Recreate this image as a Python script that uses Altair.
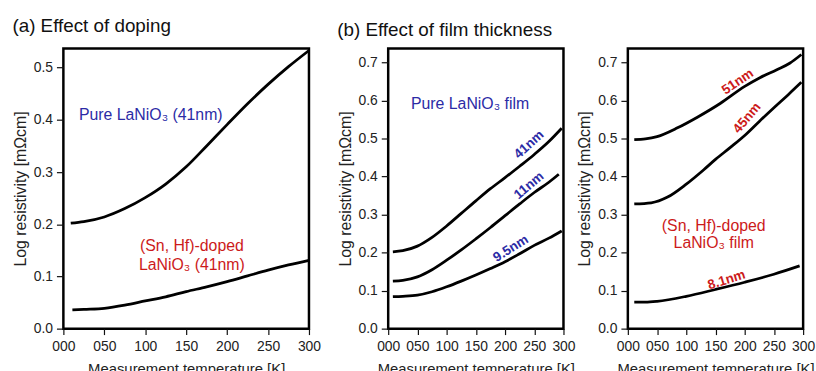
import altair as alt
import pandas as pd

FONT = "Liberation Sans"
BLUE = "#2B2BA6"
RED = "#CC1A1A"

# ---------------- data ----------------
# Panel (a): effect of doping
a_pure_T = [9, 25, 50, 75, 100, 125, 150, 175, 200, 225, 250, 275, 300]
a_pure_R = [0.202, 0.205, 0.214, 0.230, 0.251, 0.277, 0.310, 0.350, 0.391, 0.431, 0.468, 0.502, 0.533]
a_dop_T = [11, 25, 50, 75, 100, 125, 150, 175, 200, 225, 250, 275, 300]
a_dop_R = [0.036, 0.037, 0.039, 0.045, 0.053, 0.061, 0.071, 0.080, 0.090, 0.101, 0.112, 0.122, 0.131]

# Panel (b): pure LaNiO3 film, thickness
b41_T = [8, 25, 50, 75, 100, 125, 150, 175, 200, 225, 250, 275, 297]
b41_R = [0.202, 0.205, 0.217, 0.240, 0.270, 0.303, 0.336, 0.368, 0.397, 0.427, 0.458, 0.492, 0.527]
b11_T = [8, 25, 50, 75, 100, 125, 150, 175, 200, 225, 250, 275, 292]
b11_R = [0.125, 0.127, 0.136, 0.155, 0.180, 0.207, 0.236, 0.266, 0.297, 0.328, 0.358, 0.385, 0.406]
b95_T = [8, 25, 50, 75, 100, 125, 150, 175, 200, 225, 250, 275, 297]
b95_R = [0.084, 0.085, 0.088, 0.097, 0.110, 0.125, 0.141, 0.158, 0.176, 0.197, 0.219, 0.238, 0.257]

# Panel (c): (Sn, Hf)-doped LaNiO3 film, thickness
c51_T = [11, 30, 50, 85, 119, 158, 200, 226, 255, 277, 297]
c51_R = [0.497, 0.499, 0.505, 0.528, 0.556, 0.592, 0.637, 0.660, 0.681, 0.698, 0.721]
c45_T = [11, 40, 68, 100, 130, 150, 175, 200, 225, 250, 275, 297]
c45_R = [0.328, 0.331, 0.346, 0.380, 0.418, 0.445, 0.476, 0.508, 0.545, 0.581, 0.616, 0.648]
c81_T = [11, 30, 50, 100, 150, 200, 250, 294]
c81_R = [0.070, 0.070, 0.072, 0.085, 0.103, 0.122, 0.143, 0.165]

x_ticks = [0, 50, 100, 150, 200, 250, 300]
ya_ticks = [0.0, 0.1, 0.2, 0.3, 0.4, 0.5]
yb_ticks = [0.0, 0.1, 0.2, 0.3, 0.4, 0.5, 0.6, 0.7]


def series(name, T, R):
    return pd.DataFrame({"T": T, "R": R, "s": name})


a_df = pd.concat([series("pure", a_pure_T, a_pure_R), series("doped", a_dop_T, a_dop_R)])
b_df = pd.concat([series("41nm", b41_T, b41_R), series("11nm", b11_T, b11_R), series("9.5nm", b95_T, b95_R)])
c_df = pd.concat([series("51nm", c51_T, c51_R), series("45nm", c45_T, c45_R), series("8.1nm", c81_T, c81_R)])

# annotation texts (data coordinates)
a_notes_left = pd.DataFrame({"T": [19], "R": [0.409], "txt": ["Pure LaNiO₃ (41nm)"], "col": [BLUE]})
a_notes_center = pd.DataFrame({
    "T": [157, 157], "R": [0.159, 0.121],
    "txt": ["(Sn, Hf)-doped", "LaNiO₃ (41nm)"], "col": [RED, RED],
})
b_notes = pd.DataFrame({"T": [39], "R": [0.591], "txt": ["Pure LaNiO₃ film"], "col": [BLUE]})
c_notes = pd.DataFrame({
    "T": [147, 147], "R": [0.271, 0.225],
    "txt": ["(Sn, Hf)-doped", "LaNiO₃ film"], "col": [RED, RED],
})
b_nm = pd.DataFrame({
    "T": [241, 241, 210], "R": [0.484, 0.376, 0.2105],
    "txt": ["41nm", "11nm", "9.5nm"], "ang": [318, 320, 328], "col": [BLUE, BLUE, BLUE],
})
c_nm = pd.DataFrame({
    "T": [188, 204, 169], "R": [0.649, 0.554, 0.128],
    "txt": ["51nm", "45nm", "8.1nm"], "ang": [326, 310, 343], "col": [RED, RED, RED],
})


def x_enc():
    return alt.X(
        "T:Q",
        scale=alt.Scale(domain=[0, 300], nice=False, zero=False),
        axis=alt.Axis(values=x_ticks, format="03d", title="Measurement temperature [K]",
                      labelFlush=False, labelOverlap=False, labelPadding=5, titlePadding=8,
                      tickSize=6),
    )


def y_enc(ymax, ticks):
    return alt.Y(
        "R:Q",
        scale=alt.Scale(domain=[0, ymax], nice=False, zero=False),
        axis=alt.Axis(values=ticks, format=".1f", title="Log resistivity [mΩcm]",
                      labelFlush=False, labelOverlap=False, labelPadding=4, titlePadding=5,
                      tickSize=7),
    )


def lines(df, ymax, ticks):
    return alt.Chart(df).mark_line(color="black", strokeWidth=2.8, interpolate="monotone").encode(
        x=x_enc(), y=y_enc(ymax, ticks), detail="s:N"
    )


def notes(df, ymax, ticks, align="center", size=16):
    return alt.Chart(df).mark_text(font=FONT, fontSize=size, align=align,
                                   baseline="middle").encode(
        x=x_enc(), y=y_enc(ymax, ticks), text="txt:N", color=alt.Color("col:N", scale=None)
    )


def nm_labels(df, ymax, ticks):
    return alt.Chart(df).mark_text(font=FONT, fontSize=13.5, fontWeight="bold", align="center",
                                   baseline="middle").encode(
        x=x_enc(), y=y_enc(ymax, ticks), text="txt:N", angle=alt.Angle("ang:Q", scale=None),
        color=alt.Color("col:N", scale=None)
    )


def title(t):
    return alt.TitleParams(t, anchor="start", frame="bounds", fontSize=19, font=FONT,
                           fontWeight="normal", color="#111111", offset=9)


YA, YB = 0.537, 0.737

panel_a = alt.layer(
    lines(a_df, YA, ya_ticks),
    notes(a_notes_left, YA, ya_ticks, align="left"),
    notes(a_notes_center, YA, ya_ticks),
).properties(width=248, height=283, title=title("(a) Effect of doping"))

panel_b = alt.layer(
    lines(b_df, YB, yb_ticks),
    notes(b_notes, YB, yb_ticks, align="left"),
    nm_labels(b_nm, YB, yb_ticks),
).properties(width=177, height=283, title=title("(b) Effect of film thickness"))

panel_c = alt.layer(
    lines(c_df, YB, yb_ticks),
    notes(c_notes, YB, yb_ticks),
    nm_labels(c_nm, YB, yb_ticks),
).properties(width=177, height=283)

inner = alt.hconcat(panel_b, panel_c, spacing=65, bounds="flush")

chart = alt.hconcat(panel_a, inner, spacing=14).properties(
    padding={"left": 11, "top": 14, "right": 0, "bottom": 0}
).configure_view(
    stroke="black", strokeWidth=2.5
).configure_axis(
    domain=False, grid=False, ticks=True, tickColor="#111111", tickWidth=1.2,
    labelFont=FONT, labelFontSize=14, labelColor="#222222",
    titleFont=FONT, titleFontSize=16, titleFontWeight="normal", titleColor="#222222",
).configure_axisX(titleFontSize=15)

chart.save("out.html", embed_options={"renderer": "svg", "actions": False})
